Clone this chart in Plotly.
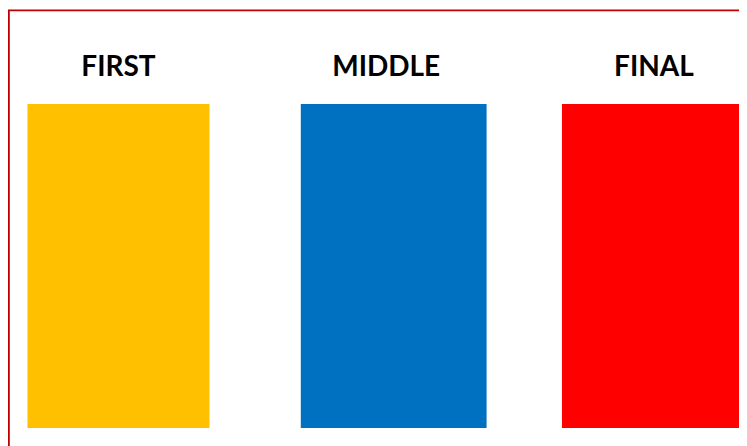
import plotly.graph_objects as go

categories = ["FIRST", "MIDDLE", "FINAL"]
values = [100, 100, 100]
bar_colors = ["#FFC000", "#0070C0", "#FF0000"]

# the page body adds an 8px margin, so the figure covers the visible area
W, H = 739, 438
top_px, bot_px = 95.5, 420.5

fig = go.Figure(
    go.Bar(
        x=categories,
        y=values,
        marker=dict(color=bar_colors, line=dict(width=0)),
        width=[0.68, 0.694, 0.687],
        offset=[-0.34, -0.347 + 0.028, -0.3435],
        hoverinfo="skip",
    )
)

scale = 267.7
r0 = -110.5 / scale
r1 = r0 + W / scale

ph = bot_px - top_px


def py(px):
    return (bot_px - px) / ph


fig.update_layout(
    width=W,
    height=H,
    margin=dict(l=0, r=0, t=top_px, b=H - bot_px, pad=0),
    paper_bgcolor="white",
    plot_bgcolor="white",
    showlegend=False,
    xaxis=dict(
        side="top",
        type="category",
        range=[r0, r1],
        showgrid=False,
        zeroline=False,
        showline=False,
        ticks="",
        ticklabelstandoff=21,
        tickfont=dict(family="Lato", size=28, color="black", weight="bold"),
    ),
    yaxis=dict(
        range=[0, 100],
        visible=False,
        showgrid=False,
        zeroline=False,
    ),
    shapes=[
        dict(type="line", xref="paper", yref="paper",
             x0=0.9 / W, x1=0.9 / W, y0=py(H + 5), y1=py(1.5),
             line=dict(color="#C00000", width=1.8)),
        dict(type="line", xref="paper", yref="paper",
             x0=0, x1=(W + 5) / W, y0=py(1.5), y1=py(1.5),
             line=dict(color="#C00000", width=1.8)),
    ],
)

fig.write_html("out.html")
